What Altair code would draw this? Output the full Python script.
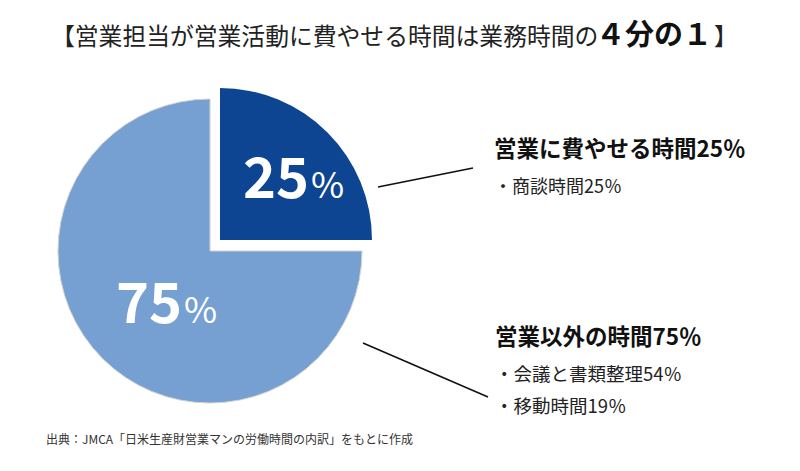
import altair as alt
import pandas as pd

# ---- data ----
slice_names = ["営業に費やせる時間", "営業以外の時間"]
slice_values = [25, 75]
slice_order = [0, 1]
slice_colors = ["#0d4593", "#769fd2"]

title_main = "【営業担当が営業活動に費やせる時間は業務時間の"
title_bold = "４分の１"
title_end = "】"

head_sales = "営業に費やせる時間25％"
items_sales = ["・商談時間25％"]
head_other = "営業以外の時間75％"
items_other = ["・会議と書類整理54％", "・移動時間19％"]
source_text = "出典：JMCA「日米生産財営業マンの労働時間の内訳」をもとに作成"

FONT = "Noto Sans CJK JP"
O = 8  # page margin (chart coords = page coords - 8)

df = pd.DataFrame({"name": slice_names, "value": slice_values, "order": slice_order})

base = alt.Chart(df).transform_window(
    end="sum(value)", sort=[alt.SortField("order")], frame=[None, 0]
).transform_calculate(start="datum.end - datum.value")

theta_scale = alt.Scale(domain=[0, 100], range=[0, 6.283185307])
color_scale = alt.Scale(domain=slice_names, range=slice_colors)

R = 152
other_arc = base.transform_filter(alt.datum.order == 1).mark_arc(
    x=210 - O, y=251 - O, radius=R, stroke="#d0d0d0", strokeWidth=1
).encode(
    theta=alt.Theta("start:Q", scale=theta_scale, stack=False),
    theta2="end:Q",
    color=alt.Color("name:N", scale=color_scale, legend=None),
)
sales_arc = base.transform_filter(alt.datum.order == 0).mark_arc(
    x=220 - O, y=240 - O, radius=R
).encode(
    theta=alt.Theta("start:Q", scale=theta_scale, stack=False),
    theta2="end:Q",
    color=alt.Color("name:N", scale=color_scale, legend=None),
)

# in-slice labels
num_sales = base.transform_filter(alt.datum.order == 0).mark_text(
    x=309 - O, y=198 - O, align="right", baseline="alphabetic",
    font=FONT, fontSize=56, fontWeight="bold", color="white"
).encode(text="value:N")
pct_sales = base.transform_filter(alt.datum.order == 0).mark_text(
    x=311 - O, y=198 - O, align="left", baseline="alphabetic",
    font=FONT, fontSize=36, color="white", text="%"
).encode(opacity=alt.value(1))
num_other = base.transform_filter(alt.datum.order == 1).mark_text(
    x=182 - O, y=323 - O, align="right", baseline="alphabetic",
    font=FONT, fontSize=56, fontWeight="bold", color="white"
).encode(text="value:N")
pct_other = base.transform_filter(alt.datum.order == 1).mark_text(
    x=184 - O, y=323 - O, align="left", baseline="alphabetic",
    font=FONT, fontSize=36, color="white", text="%"
).encode(opacity=alt.value(1))

one = alt.Chart(pd.DataFrame({"k": [0]}))

def txt(s, x, y, size, weight="normal", align="left", color="#111111"):
    return one.mark_text(
        text=s, x=x - O, y=y - O, align=align, baseline="middle",
        font=FONT, fontSize=size, fontWeight=weight, color=color
    ).encode(opacity=alt.value(1))

texts = [
    txt(title_main, 51, 38, 23.8, color="#222222"),
    txt(title_bold, 596, 36, 29, weight="bold", color="#111111"),
    txt(title_end, 714, 38, 23.8, color="#222222"),
    txt(head_sales, 494, 150, 22.5, weight="bold"),
    txt(items_sales[0], 494, 188, 18, color="#222222"),
    txt(head_other, 495, 338, 22.5, weight="bold"),
    txt(items_other[0], 495, 375, 18.5, color="#222222"),
    txt(items_other[1], 495, 407, 18.5, color="#222222"),
    txt(source_text, 46, 440, 12, color="#333333"),
]

def line(x1, y1, x2, y2):
    return one.mark_rule(color="#111111", strokeWidth=1.6).encode(
        x=alt.value(x1 - O), y=alt.value(y1 - O),
        x2=alt.value(x2 - O), y2=alt.value(y2 - O)
    )

lines = [line(378, 187, 473, 168), line(363, 343, 488, 397)]

chart = alt.layer(
    other_arc, sales_arc, num_sales, pct_sales, num_other, pct_other, *texts, *lines
).properties(
    width=784, height=455, padding=0, autosize="none", background="white"
).configure_view(strokeWidth=0)

chart.save("out.html", embed_options={"renderer": "svg", "actions": False})
